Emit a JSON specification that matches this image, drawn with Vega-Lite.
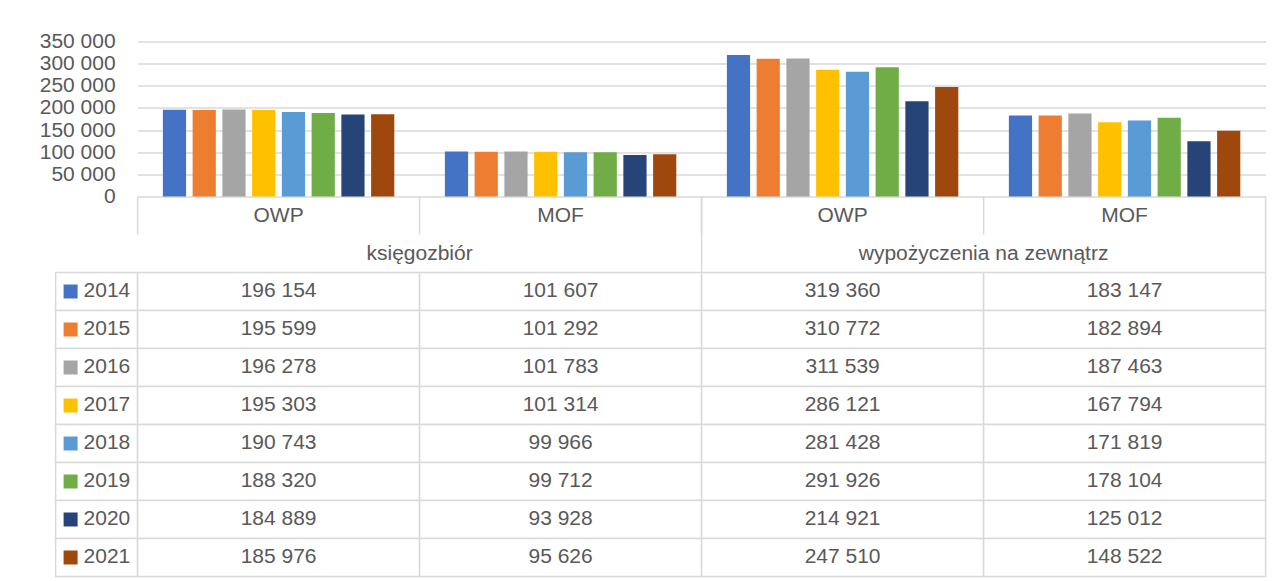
{
  "$schema": "https://vega.github.io/schema/vega-lite/v6.json",
  "padding": {"left": 38.6, "top": 30.5, "right": 10, "bottom": 4},
  "background": "white",
  "datasets": {
    "dane": [
      {"rok": "2014", "grupa": "księgozbiór", "kat": "OWP", "kol": "księgozbiór OWP", "wartosc": 196154},
      {"rok": "2015", "grupa": "księgozbiór", "kat": "OWP", "kol": "księgozbiór OWP", "wartosc": 195599},
      {"rok": "2016", "grupa": "księgozbiór", "kat": "OWP", "kol": "księgozbiór OWP", "wartosc": 196278},
      {"rok": "2017", "grupa": "księgozbiór", "kat": "OWP", "kol": "księgozbiór OWP", "wartosc": 195303},
      {"rok": "2018", "grupa": "księgozbiór", "kat": "OWP", "kol": "księgozbiór OWP", "wartosc": 190743},
      {"rok": "2019", "grupa": "księgozbiór", "kat": "OWP", "kol": "księgozbiór OWP", "wartosc": 188320},
      {"rok": "2020", "grupa": "księgozbiór", "kat": "OWP", "kol": "księgozbiór OWP", "wartosc": 184889},
      {"rok": "2021", "grupa": "księgozbiór", "kat": "OWP", "kol": "księgozbiór OWP", "wartosc": 185976},
      {"rok": "2014", "grupa": "księgozbiór", "kat": "MOF", "kol": "księgozbiór MOF", "wartosc": 101607},
      {"rok": "2015", "grupa": "księgozbiór", "kat": "MOF", "kol": "księgozbiór MOF", "wartosc": 101292},
      {"rok": "2016", "grupa": "księgozbiór", "kat": "MOF", "kol": "księgozbiór MOF", "wartosc": 101783},
      {"rok": "2017", "grupa": "księgozbiór", "kat": "MOF", "kol": "księgozbiór MOF", "wartosc": 101314},
      {"rok": "2018", "grupa": "księgozbiór", "kat": "MOF", "kol": "księgozbiór MOF", "wartosc": 99966},
      {"rok": "2019", "grupa": "księgozbiór", "kat": "MOF", "kol": "księgozbiór MOF", "wartosc": 99712},
      {"rok": "2020", "grupa": "księgozbiór", "kat": "MOF", "kol": "księgozbiór MOF", "wartosc": 93928},
      {"rok": "2021", "grupa": "księgozbiór", "kat": "MOF", "kol": "księgozbiór MOF", "wartosc": 95626},
      {"rok": "2014", "grupa": "wypożyczenia na zewnątrz", "kat": "OWP", "kol": "wypożyczenia na zewnątrz OWP", "wartosc": 319360},
      {"rok": "2015", "grupa": "wypożyczenia na zewnątrz", "kat": "OWP", "kol": "wypożyczenia na zewnątrz OWP", "wartosc": 310772},
      {"rok": "2016", "grupa": "wypożyczenia na zewnątrz", "kat": "OWP", "kol": "wypożyczenia na zewnątrz OWP", "wartosc": 311539},
      {"rok": "2017", "grupa": "wypożyczenia na zewnątrz", "kat": "OWP", "kol": "wypożyczenia na zewnątrz OWP", "wartosc": 286121},
      {"rok": "2018", "grupa": "wypożyczenia na zewnątrz", "kat": "OWP", "kol": "wypożyczenia na zewnątrz OWP", "wartosc": 281428},
      {"rok": "2019", "grupa": "wypożyczenia na zewnątrz", "kat": "OWP", "kol": "wypożyczenia na zewnątrz OWP", "wartosc": 291926},
      {"rok": "2020", "grupa": "wypożyczenia na zewnątrz", "kat": "OWP", "kol": "wypożyczenia na zewnątrz OWP", "wartosc": 214921},
      {"rok": "2021", "grupa": "wypożyczenia na zewnątrz", "kat": "OWP", "kol": "wypożyczenia na zewnątrz OWP", "wartosc": 247510},
      {"rok": "2014", "grupa": "wypożyczenia na zewnątrz", "kat": "MOF", "kol": "wypożyczenia na zewnątrz MOF", "wartosc": 183147},
      {"rok": "2015", "grupa": "wypożyczenia na zewnątrz", "kat": "MOF", "kol": "wypożyczenia na zewnątrz MOF", "wartosc": 182894},
      {"rok": "2016", "grupa": "wypożyczenia na zewnątrz", "kat": "MOF", "kol": "wypożyczenia na zewnątrz MOF", "wartosc": 187463},
      {"rok": "2017", "grupa": "wypożyczenia na zewnątrz", "kat": "MOF", "kol": "wypożyczenia na zewnątrz MOF", "wartosc": 167794},
      {"rok": "2018", "grupa": "wypożyczenia na zewnątrz", "kat": "MOF", "kol": "wypożyczenia na zewnątrz MOF", "wartosc": 171819},
      {"rok": "2019", "grupa": "wypożyczenia na zewnątrz", "kat": "MOF", "kol": "wypożyczenia na zewnątrz MOF", "wartosc": 178104},
      {"rok": "2020", "grupa": "wypożyczenia na zewnątrz", "kat": "MOF", "kol": "wypożyczenia na zewnątrz MOF", "wartosc": 125012},
      {"rok": "2021", "grupa": "wypożyczenia na zewnątrz", "kat": "MOF", "kol": "wypożyczenia na zewnątrz MOF", "wartosc": 148522}
    ]
  },
  "config": {
    "locale": {"number": {"decimal": ",", "thousands": " ", "grouping": [3], "currency": ["", " zł"]}},
    "view": {"stroke": null},
    "font": "Liberation Sans",
    "text": {"font": "Liberation Sans", "fontSize": 21, "color": "#595959"},
    "axis": {"labelFont": "Liberation Sans", "labelFontSize": 21, "labelColor": "#595959"}
  },
  "columns": 2,
  "spacing": 0,
  "bounds": "flush",
  "align": "each",
  "concat": [
    {
      "data": {"values": []},
      "width": 82,
      "height": 155,
      "mark": "point"
    },
    {
      "data": {"name": "dane"},
      "width": 1128,
      "height": 155,
      "mark": {"type": "bar"},
      "encoding": {
        "x": {"field": "kol", "type": "nominal", "scale": {"domain": ["księgozbiór OWP", "księgozbiór MOF", "wypożyczenia na zewnątrz OWP", "wypożyczenia na zewnątrz MOF"], "paddingInner": 0, "paddingOuter": 0}, "axis": null},
        "xOffset": {"field": "rok", "type": "nominal", "scale": {"domain": ["2014", "2015", "2016", "2017", "2018", "2019", "2020", "2021"], "paddingInner": 0.22, "paddingOuter": 0.85}},
        "y": {"field": "wartosc", "type": "quantitative", "scale": {"domain": [0, 350000], "nice": false}, "axis": {"values": [0, 50000, 100000, 150000, 200000, 250000, 300000, 350000], "format": ",d", "grid": true, "gridColor": "#d9d9d9", "gridWidth": 1.5, "domain": false, "ticks": false, "labelPadding": 22.5, "title": null}},
        "color": {"field": "rok", "type": "nominal", "scale": {"domain": ["2014", "2015", "2016", "2017", "2018", "2019", "2020", "2021"], "range": ["#4472C4", "#ED7D31", "#A5A5A5", "#FFC000", "#5B9BD5", "#70AD47", "#264478", "#9E480E"]}, "legend": null}
      }
    },
    {
      "data": {"name": "dane"},
      "transform": [{"filter": "datum.kat == 'OWP' && datum.grupa == 'księgozbiór'"}],
      "width": 82,
      "height": 380,
      "encoding": {
        "y": {"field": "rok", "type": "nominal", "scale": {"domain": ["kat", "grupa", "2014", "2015", "2016", "2017", "2018", "2019", "2020", "2021"], "paddingInner": 0, "paddingOuter": 0}, "axis": null}
      },
      "layer": [
        {"mark": {"type": "rect", "fill": "white", "stroke": "#d9d9d9", "strokeWidth": 1.5}},
        {
          "mark": {"type": "point", "shape": "square", "filled": true, "size": 196, "opacity": 1, "xOffset": -26},
          "encoding": {"color": {"field": "rok", "type": "nominal", "scale": {"domain": ["2014", "2015", "2016", "2017", "2018", "2019", "2020", "2021"], "range": ["#4472C4", "#ED7D31", "#A5A5A5", "#FFC000", "#5B9BD5", "#70AD47", "#264478", "#9E480E"]}, "legend": null}}
        },
        {"mark": {"type": "text", "align": "left", "dx": -13}, "encoding": {"text": {"field": "rok"}}}
      ]
    },
    {
      "data": {"name": "dane"},
      "width": 1128,
      "height": 380,
      "encoding": {
        "x": {"field": "kol", "type": "nominal", "scale": {"domain": ["księgozbiór OWP", "księgozbiór MOF", "wypożyczenia na zewnątrz OWP", "wypożyczenia na zewnątrz MOF"], "paddingInner": 0, "paddingOuter": 0}, "axis": null}
      },
      "layer": [
        {
          "transform": [{"filter": "datum.rok == '2014'"}],
          "mark": {"type": "rule", "stroke": "#d9d9d9", "strokeWidth": 1.5},
          "encoding": {
            "x": {"field": "kol", "type": "nominal", "bandPosition": 0},
            "y": {"datum": "kat", "type": "nominal", "bandPosition": 0, "scale": {"domain": ["kat", "grupa", "2014", "2015", "2016", "2017", "2018", "2019", "2020", "2021"], "paddingInner": 0, "paddingOuter": 0}, "axis": null},
            "y2": {"datum": "grupa", "bandPosition": 0}
          }
        },
        {
          "transform": [{"filter": "datum.rok == '2014'"}],
          "mark": {"type": "text"},
          "encoding": {"y": {"datum": "kat", "type": "nominal"}, "text": {"field": "kat"}}
        },
        {
          "transform": [{"filter": "datum.rok == '2014' && datum.kat == 'MOF'"}],
          "mark": {"type": "text"},
          "encoding": {"x": {"field": "kol", "type": "nominal", "bandPosition": 0}, "y": {"datum": "grupa", "type": "nominal"}, "text": {"field": "grupa"}}
        },
        {
          "transform": [{"filter": "datum.rok == '2014' && datum.kat == 'MOF'"}],
          "mark": {"type": "rule", "stroke": "#d9d9d9", "strokeWidth": 1.5},
          "encoding": {"x": {"field": "kol", "type": "nominal", "bandPosition": 1}, "y": {"datum": "kat", "type": "nominal", "bandPosition": 0}, "y2": {"datum": "2014", "bandPosition": 0}}
        },
        {
          "mark": {"type": "rect", "fill": "white", "stroke": "#d9d9d9", "strokeWidth": 1.5},
          "encoding": {"y": {"field": "rok", "type": "nominal"}}
        },
        {
          "mark": {"type": "text"},
          "encoding": {"y": {"field": "rok", "type": "nominal"}, "text": {"field": "wartosc", "type": "quantitative", "format": ",d"}}
        }
      ]
    }
  ]
}
